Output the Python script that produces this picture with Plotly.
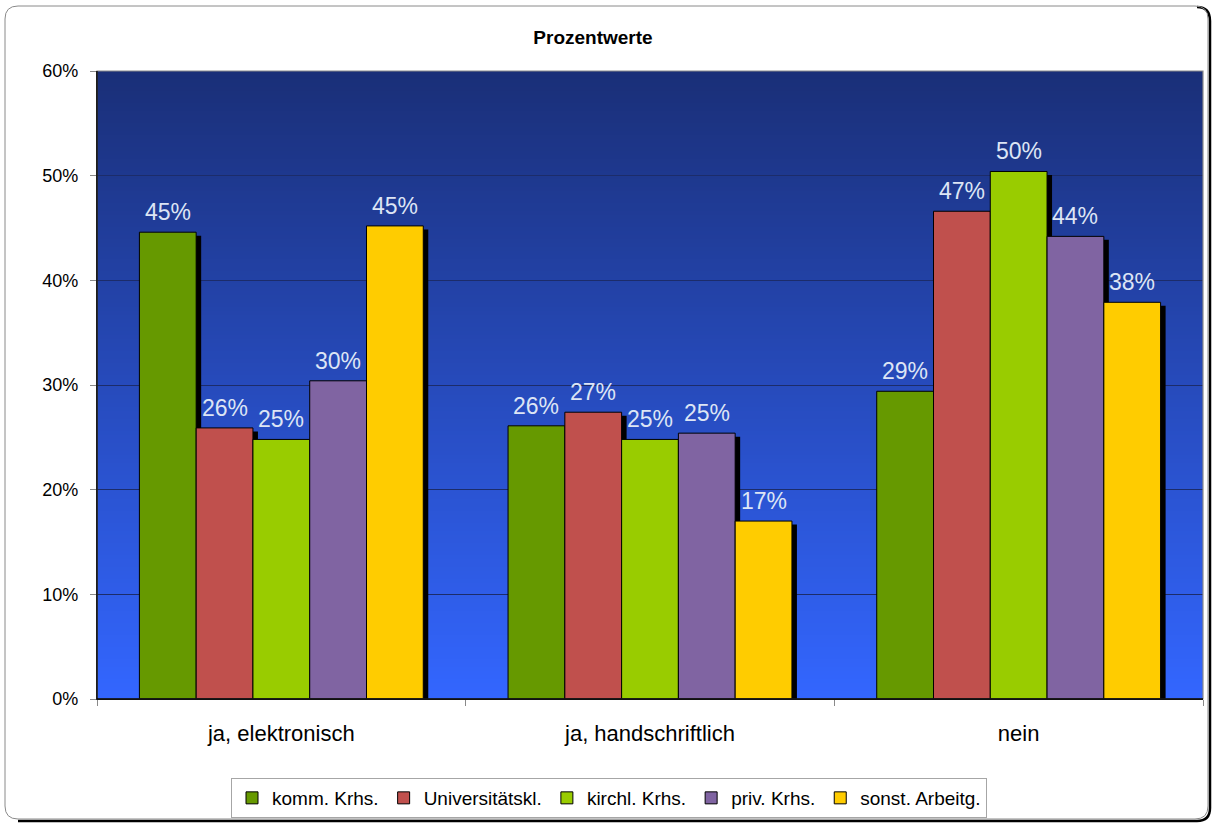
import plotly.graph_objects as go

# Antwortkategorien und Arbeitgebergruppen
categories = ["ja, elektronisch", "ja, handschriftlich", "nein"]
series_names = ["komm. Krhs.", "Universitätskl.", "kirchl. Krhs.", "priv. Krhs.", "sonst. Arbeitg."]

# Anteile je Gruppe (als Bruchteil)
komm_krhs = [0.446, 0.261, 0.294]
universitaetskl = [0.259, 0.274, 0.466]
kirchl_krhs = [0.248, 0.248, 0.504]
priv_krhs = [0.304, 0.254, 0.442]
sonst_arbeitg = [0.452, 0.170, 0.379]

y_ticks = [0, 0.1, 0.2, 0.3, 0.4, 0.5, 0.6]

series_values = [komm_krhs, universitaetskl, kirchl_krhs, priv_krhs, sonst_arbeitg]
colors = ["#669900", "#c0504d", "#99cc00", "#8064a2", "#ffcc00"]

W, H = 1212, 824
L, R, T, B = 97, 9, 71, 125
PW, PH = W - L - R, H - T - B

group_width = 0.77
bar_w = group_width / len(series_names)
shadow_dx = 5 / (PW / len(categories))        # 5 px nach rechts
shadow_dy = 3.5 / PH * 0.6                     # 3.5 px nach unten

fig = go.Figure()

# Schlagschatten der Balken
for i, vals in enumerate(series_values):
    fig.add_trace(go.Bar(
        x=categories, y=vals, base=[-shadow_dy] * len(vals),
        width=bar_w, offset=-group_width / 2 + i * bar_w + shadow_dx,
        marker=dict(color="black", line=dict(width=0)),
        showlegend=False, hoverinfo="skip",
    ))

# Balken
for i, (name, vals) in enumerate(zip(series_names, series_values)):
    fig.add_trace(go.Bar(
        x=categories, y=vals, name=name,
        width=bar_w, offset=-group_width / 2 + i * bar_w,
        marker=dict(color=colors[i], line=dict(color="black", width=1)),
    ))

# Wertbeschriftungen über den Balken
annotations = []
for i, vals in enumerate(series_values):
    for j, v in enumerate(vals):
        annotations.append(dict(
            x=j - group_width / 2 + (i + 0.5) * bar_w, y=v,
            xref="x", yref="y", text=f"{v * 100:.0f}%",
            showarrow=False, yanchor="bottom", yshift=5,
            font=dict(family="Liberation Sans, Arial", size=23, color="#dde5f5"),
        ))

# Farbverlauf des Diagrammhintergrunds
shapes = []
top_rgb = (26, 47, 120)
bot_rgb = (51, 102, 255)
n_steps = 157
for k in range(n_steps):
    t = k / (n_steps - 1)
    c = tuple(round(top_rgb[m] + (bot_rgb[m] - top_rgb[m]) * t) for m in range(3))
    y1 = 1 - k / n_steps
    y0 = 1 - (k + 1) / n_steps
    shapes.append(dict(
        type="rect", xref="x domain", yref="y domain",
        x0=0, x1=1, y0=y0 - 0.001, y1=y1,
        fillcolor=f"rgb{c}", line=dict(width=0), layer="below",
    ))

# Rahmen der Zeichenfläche: grau oben/rechts, schwarz links/unten
shapes.append(dict(type="rect", xref="x domain", yref="y domain", x0=0, x1=1, y0=0, y1=1,
                   line=dict(color="#8a8a8a", width=1.2), layer="above"))
shapes.append(dict(type="line", xref="x domain", yref="y domain", x0=0, x1=0, y0=0, y1=1,
                   line=dict(color="black", width=1.3), layer="above"))
shapes.append(dict(type="line", xref="x domain", yref="y domain", x0=0, x1=1, y0=0, y1=0,
                   line=dict(color="black", width=1.3), layer="above"))


def px(x):
    return (x - L) / PW


def py(y):
    return (H - B - y) / PH


# abgerundeter Außenrahmen mit Schatten
x0, x1, y0, y1, r = 5, 1208, 6, 819, 13
frame = (f"M {px(x0 + r)},{py(y0)} L {px(x1 - r)},{py(y0)} Q {px(x1)},{py(y0)} {px(x1)},{py(y0 + r)} "
         f"L {px(x1)},{py(y1 - r)} Q {px(x1)},{py(y1)} {px(x1 - r)},{py(y1)} "
         f"L {px(x0 + r)},{py(y1)} Q {px(x0)},{py(y1)} {px(x0)},{py(y1 - r)} "
         f"L {px(x0)},{py(y0 + r)} Q {px(x0)},{py(y0)} {px(x0 + r)},{py(y0)} Z")
shadow = (f"M {px(x1 - r + 2)},{py(y0 + 1)} Q {px(x1 + 2)},{py(y0 + 1)} {px(x1 + 2)},{py(y0 + r + 2)} "
          f"L {px(x1 + 2)},{py(y1 - r + 2)} Q {px(x1 + 2)},{py(y1 + 2)} {px(x1 - r + 2)},{py(y1 + 2)} "
          f"L {px(x0 + r)},{py(y1 + 2)}")
shapes.append(dict(type="path", xref="paper", yref="paper", path=shadow,
                   line=dict(color="black", width=2.5), layer="above"))
shapes.append(dict(type="path", xref="paper", yref="paper", path=frame,
                   line=dict(color="#8a8a8a", width=1), layer="above"))

fig.update_layout(
    width=W, height=H, autosize=False,
    margin=dict(l=L, r=R, t=T, b=B, autoexpand=False),
    paper_bgcolor="white", plot_bgcolor="#2a4bbb",
    barmode="overlay",
    font=dict(family="Liberation Sans, Arial", color="black"),
    title=dict(text="<b>Prozentwerte</b>", x=(593 - L) / PW, xref="paper", xanchor="center",
               y=1 - 37 / H, yanchor="middle", font=dict(size=19, color="black")),
    xaxis=dict(
        type="category", range=[-0.5, 2.5],
        showline=True, linecolor="black", linewidth=1.3,
        ticks="outside", tickson="boundaries", ticklen=6, tickcolor="#8a8a8a",
        tickfont=dict(size=22), ticklabelstandoff=14,
        showgrid=False,
    ),
    yaxis=dict(
        range=[0, 0.6], tickvals=y_ticks, tickformat=".0%",
        showline=True, linecolor="black", linewidth=1.3,
        ticks="outside", ticklen=6, tickcolor="#8a8a8a",
        tickfont=dict(size=18), ticklabelstandoff=8,
        showgrid=True, gridcolor="#1c2c6a", gridwidth=1,
        zeroline=False,
    ),
    legend=dict(
        orientation="h", x=(609 - L) / PW, xanchor="center",
        y=py(778), yanchor="top",
        bordercolor="#a6a6a6", borderwidth=1, bgcolor="white",
        font=dict(size=19), traceorder="normal",
    ),
    annotations=annotations,
    shapes=shapes,
)

fig.write_html("out.html")
